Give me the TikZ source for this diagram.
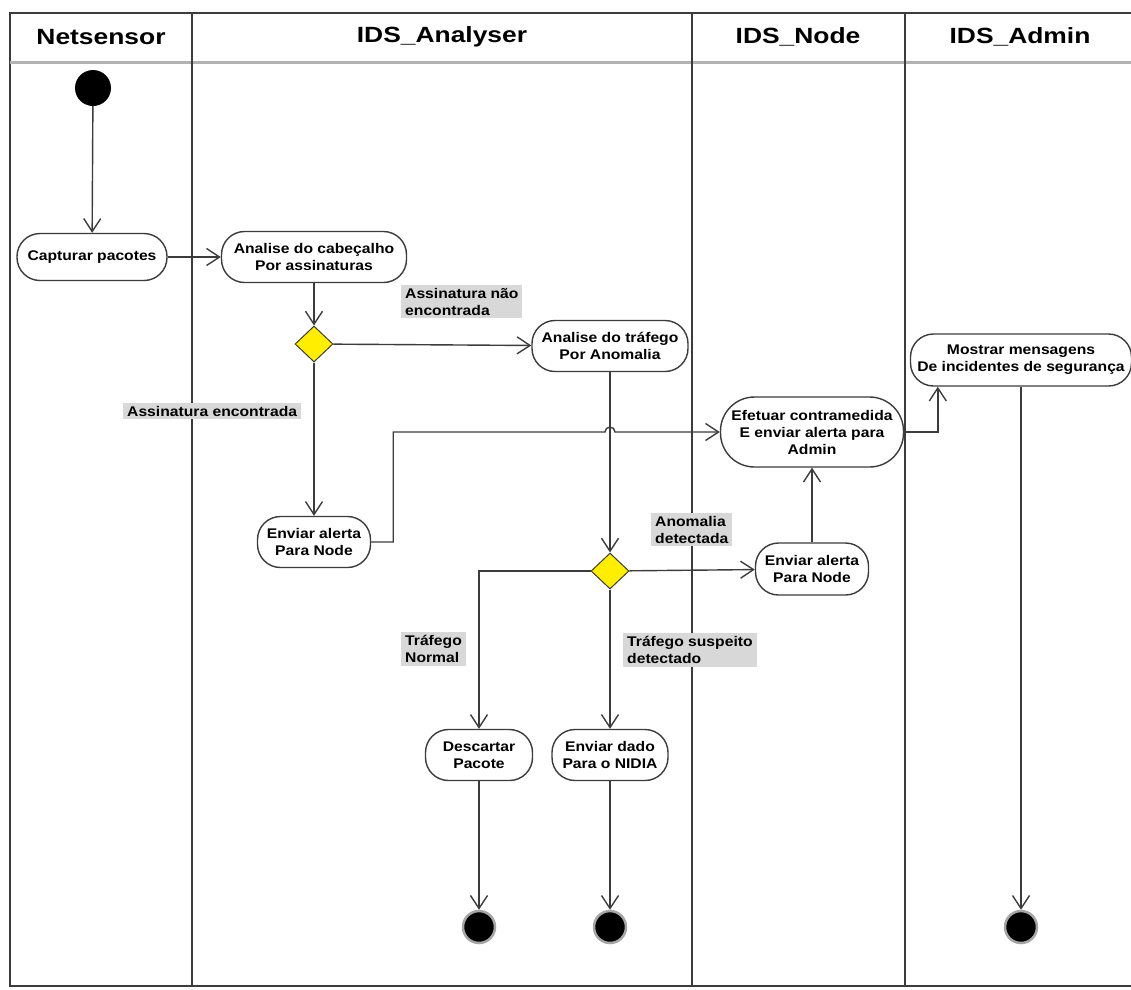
\documentclass[tikz,border=0pt]{standalone}
\usepackage{fontspec}
\setmainfont{Liberation Sans}
\newfontfamily\fonteacao[FakeStretch=1.12]{Liberation Sans}
\newfontfamily\fontecab[FakeStretch=1.2]{Liberation Sans}
\usetikzlibrary{arrows.meta,positioning,shapes.geometric}
\definecolor{cinzalinha}{RGB}{60,60,60}
\definecolor{cinzarotulo}{RGB}{216,216,216}
\definecolor{amarelo}{RGB}{255,238,0}

\begin{document}
\begin{tikzpicture}[
  x=1pt, y=-1pt,
  every node/.style={font=\fonteacao\bfseries\fontsize{14}{17}\selectfont},
  acao/.style={
    rectangle, rounded corners=23pt,
    draw=cinzalinha, line width=1.4pt,
    fill=white, align=center, inner sep=0pt,
    minimum height=51pt},
  decisao/.style={
    diamond, draw=cinzalinha, line width=1pt,
    fill=amarelo, inner sep=0pt,
    minimum width=38pt, minimum height=36pt},
  inicio/.style={circle, fill=black, inner sep=0pt, minimum size=36pt},
  fim/.style={
    circle, fill=black, draw=gray!70, line width=2.5pt,
    inner sep=0pt, minimum size=32pt},
  rotulo/.style={
    fill=cinzarotulo, align=left, anchor=north west,
    inner xsep=4pt, inner ysep=3pt},
  cabecalho/.style={font=\fontecab\bfseries\fontsize{22}{25}\selectfont},
  raia/.style={draw=cinzalinha, line width=1.8pt},
  fluxo/.style={draw=cinzalinha, line width=1.4pt,
    -{Straight Barb[length=13pt,width=17pt]}}
]
  \useasboundingbox (0,0) rectangle (1131,989);

  %% ── Raias ─────────────────────────────────────────────────
  \draw[raia] (1135,13) -- (10,13) -- (10,986) -- (1135,986);
  \draw[draw=gray!60, line width=3pt] (10,62) -- (1135,62);
  \foreach \xr in {192,692,905}
    \draw[raia] (\xr,13) -- (\xr,986);

  \node[cabecalho] (hNet) at (101,37) {Netsensor};
  \node[cabecalho] (hAna) at (442,37) {IDS\_Analyser};
  \node[cabecalho] (hNode) at (798,37) {IDS\_Node};
  \node[cabecalho] (hAdm) at (1020,37) {IDS\_Admin};

  %% ── Nós ───────────────────────────────────────────────────
  \node[inicio] (ini) at (93,88) {};

  \node[acao, minimum width=150pt, minimum height=47pt] (capt) at (92,257)
    {Capturar pacotes};
  \node[acao, minimum width=185pt] (cab) at (314,257)
    {Analise do cabeçalho\\Por assinaturas};
  \node[decisao] (d1) at (314,344) {};
  \node[acao, minimum width=156pt] (traf) at (610,346)
    {Analise do tráfego\\Por Anomalia};
  \node[acao, minimum width=113pt] (alertL) at (314,542)
    {Enviar alerta\\Para Node};
  \node[acao, minimum width=183pt, minimum height=70pt,
        rounded corners=34pt] (efet) at (812,432)
    {Efetuar contramedida\\E enviar alerta para\\Admin};
  \node[acao, minimum width=221pt, minimum height=52pt] (mostrar) at (1021,360)
    {Mostrar mensagens\\De incidentes de segurança};
  \node[decisao] (d2) at (610,571) {};
  \node[acao, minimum width=113pt, minimum height=52pt] (alertR) at (812,569)
    {Enviar alerta\\Para Node};
  \node[acao, minimum width=107pt] (desc) at (479,755)
    {Descartar\\Pacote};
  \node[acao, minimum width=116pt] (dado) at (610,755)
    {Enviar dado\\Para o NIDIA};

  \node[fim] (fim1) at (479,927) {};
  \node[fim] (fim2) at (610,927) {};
  \node[fim] (fim3) at (1021,927) {};

  %% ── Rótulos ───────────────────────────────────────────────
  \node[rotulo] (rNao) at (401,285) {Assinatura não\\encontrada};
  \node[rotulo] (rSim) at (123,403) {Assinatura encontrada};
  \node[rotulo] (rAnom) at (651,513) {Anomalia\\detectada};
  \node[rotulo] (rNorm) at (401,632) {Tráfego\\Normal};
  \node[rotulo] (rSusp) at (623,633) {Tráfego suspeito\\detectado};

  %% ── Fluxos ────────────────────────────────────────────────
  \coordinate (salto) at (traf |- efet.west);

  \draw[fluxo] (ini) -- (capt);
  \draw[fluxo] (capt) -- (cab);
  \draw[fluxo] (cab) -- (d1);
  \draw[fluxo] (d1) -- (traf);
  \draw[fluxo] (d1) -- (alertL);
  \draw[fluxo] (alertL.east) -- ++(22,0) |- ([xshift=-5pt]salto)
    arc[start angle=180, end angle=0, radius=5pt] -- (efet.west);
  \draw[fluxo] (traf) -- (d2);
  \draw[fluxo] (d2) -| (desc);
  \draw[fluxo] (d2) -- (alertR);
  \draw[fluxo] (d2) -- (dado);
  \draw[fluxo] (alertR) -- (efet);
  \draw[fluxo] (efet.east) -| ([xshift=28pt]mostrar.south west);
  \draw[fluxo] (desc) -- (fim1);
  \draw[fluxo] (dado) -- (fim2);
  \draw[fluxo] (mostrar) -- (fim3);

\end{tikzpicture}
\end{document}
